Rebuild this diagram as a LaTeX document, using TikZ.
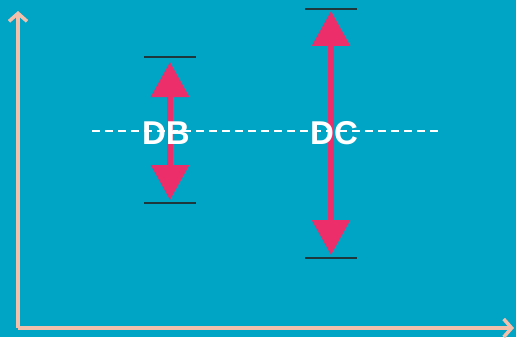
\documentclass[tikz,border=0pt]{standalone}
\usepackage{fontspec}
\setmainfont{Liberation Sans}
\usetikzlibrary{arrows.meta}
\definecolor{bg}{RGB}{0,164,196}
\definecolor{axiscol}{RGB}{243,192,172}
\definecolor{pinkcol}{RGB}{236,46,106}
\definecolor{barcol}{RGB}{30,55,60}
\tikzset{
  axisline/.style={draw=axiscol, line width=3.5pt, -{Straight Barb[length=8pt,width=18pt,line width=3.5pt]}},
  midline/.style={draw=white, line width=1.3pt, dash pattern=on 8pt off 5pt},
  limitbar/.style={draw=barcol, line width=1.4pt},
  spanarrow/.style={draw=pinkcol, line width=6pt,
    {Triangle[length=35pt,width=37pt]}-{Triangle[length=35pt,width=37pt]}},
  spanlabel/.style={text=white, font=\bfseries\fontsize{33}{33}\selectfont, inner sep=0pt}
}
\begin{document}
\begin{tikzpicture}[x=1pt, y=-1pt]
  \fill[bg] (0,0) rectangle (516,337);
  \useasboundingbox (0,0) rectangle (516,337);

  % axes
  \coordinate (origin) at (18,328);
  \coordinate (ytop) at (18,11);
  \coordinate (xend) at (514,328);
  \draw[axisline] (origin) -- (ytop);
  \draw[axisline] (origin) -- (xend);

  % reference level
  \coordinate (lvlL) at (92,131);
  \coordinate (lvlR) at (440,131);
  \draw[midline] (lvlL) -- (lvlR);

  % DB span
  \coordinate (dbTL) at (144,57);  \coordinate (dbTR) at (196,57);
  \coordinate (dbBL) at (144,203); \coordinate (dbBR) at (196,203);
  \draw[limitbar] (dbTL) -- (dbTR);
  \draw[limitbar] (dbBL) -- (dbBR);
  \coordinate (dbTop) at (170,62);
  \coordinate (dbBot) at (170,200);
  \draw[spanarrow] (dbTop) -- (dbBot);
  \node[spanlabel] (db) at (166,133) {DB};

  % DC span
  \coordinate (dcTL) at (305,9);   \coordinate (dcTR) at (357,9);
  \coordinate (dcBL) at (305,258); \coordinate (dcBR) at (357,258);
  \draw[limitbar] (dcTL) -- (dcTR);
  \draw[limitbar] (dcBL) -- (dcBR);
  \coordinate (dcTop) at (331,11);
  \coordinate (dcBot) at (331,255);
  \draw[spanarrow] (dcTop) -- (dcBot);
  \node[spanlabel] (dc) at (334,133) {DC};
\end{tikzpicture}
\end{document}
